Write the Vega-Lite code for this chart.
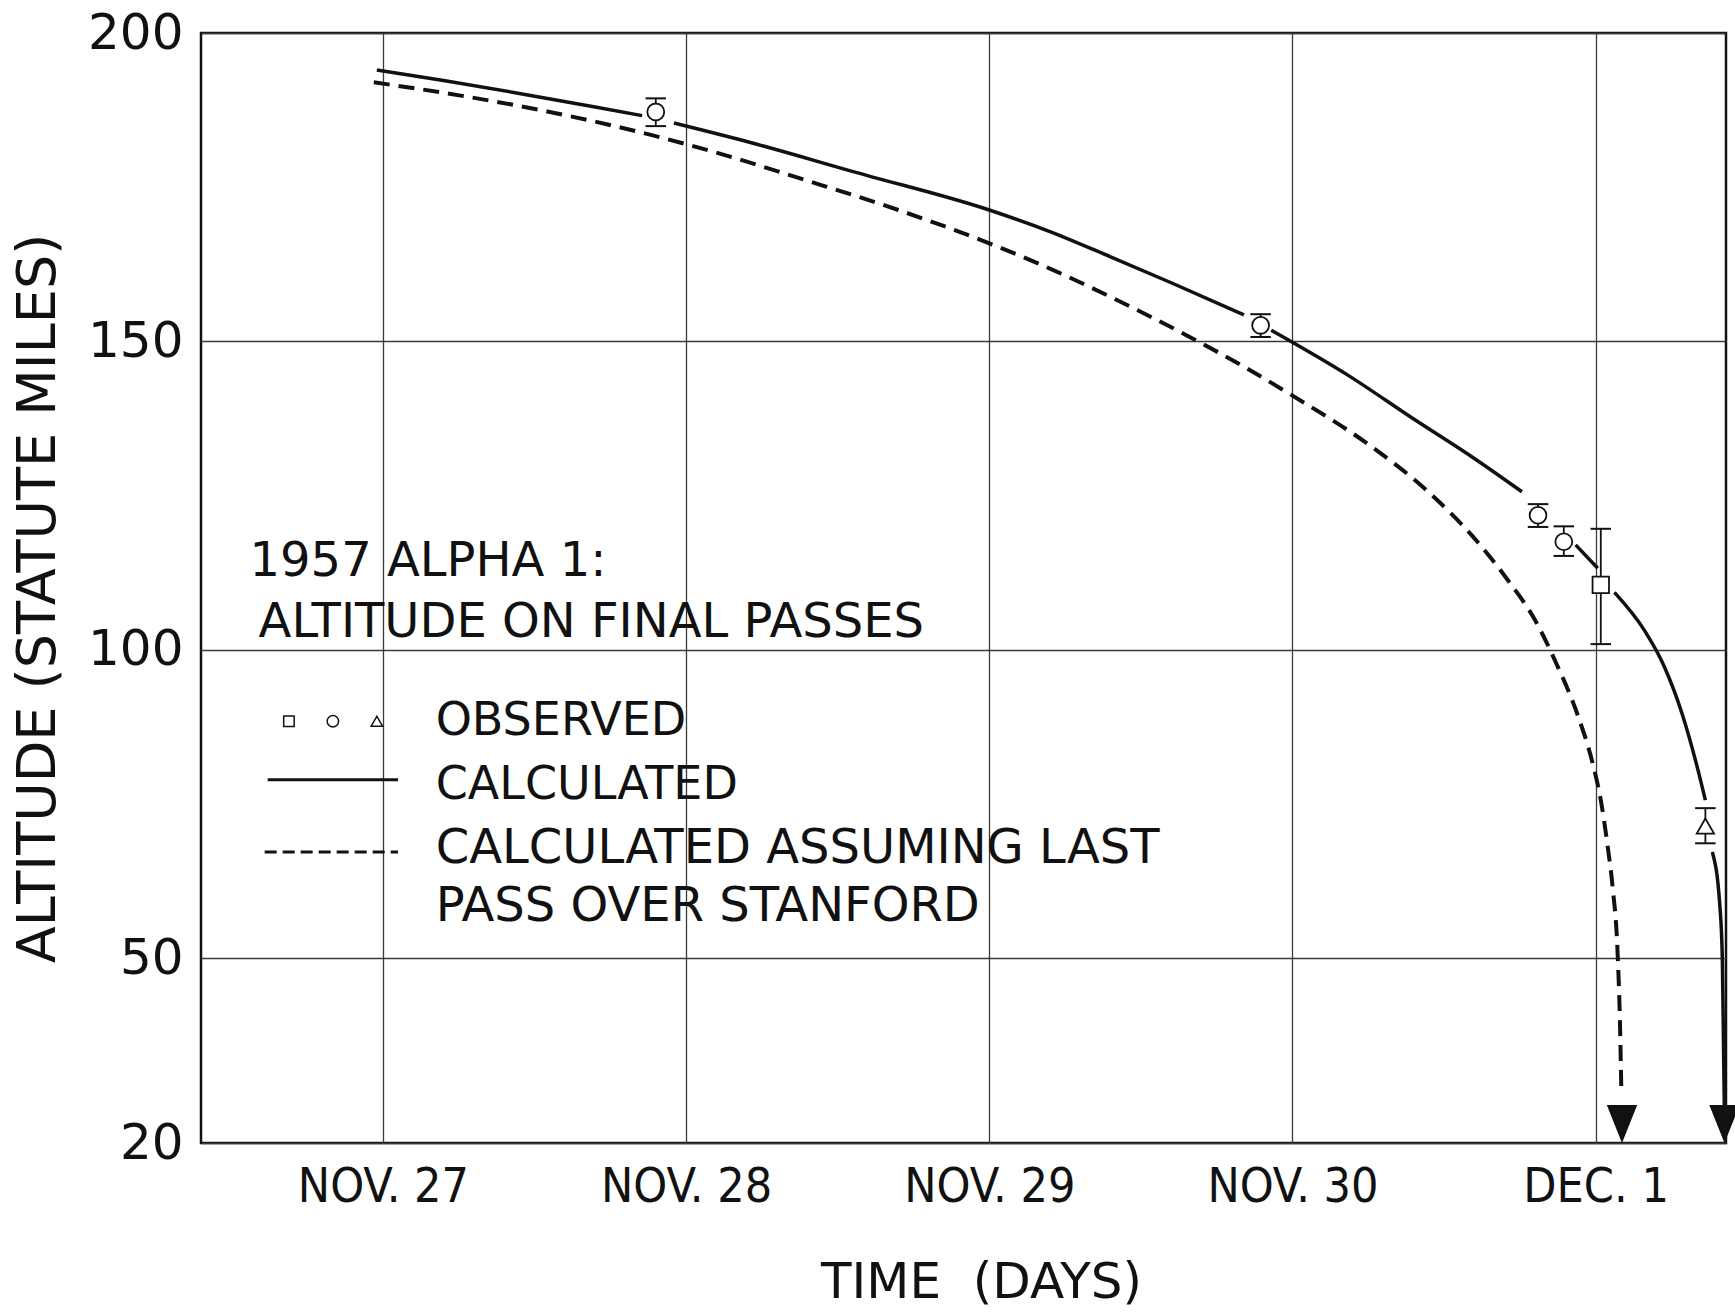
{
  "$schema": "https://vega.github.io/schema/vega-lite/v6.json",
  "width": 1525,
  "height": 1110,
  "autosize": {"type": "none"},
  "padding": {"left": 201, "top": 33, "right": 9, "bottom": 170},
  "background": "white",
  "config": {
    "font": "DejaVu Sans",
    "view": {"stroke": "#111111", "strokeWidth": 2.5},
    "axis": {"labelColor": "#111111", "titleColor": "#111111", "labelFont": "DejaVu Sans", "titleFont": "DejaVu Sans", "titleFontWeight": "normal"}
  },
  "datasets": {
    "calc": [
      {"day": 26.98, "alt": 194.0, "seg": 1},
      {"day": 27.2, "alt": 192.3, "seg": 1},
      {"day": 27.45, "alt": 190.2, "seg": 1},
      {"day": 27.7, "alt": 188.0, "seg": 1},
      {"day": 27.855, "alt": 186.6, "seg": 1},
      {"day": 27.96, "alt": 185.4, "seg": 2},
      {"day": 28.2, "alt": 182.4, "seg": 2},
      {"day": 28.56, "alt": 177.4, "seg": 2},
      {"day": 29.0, "alt": 171.3, "seg": 2},
      {"day": 29.2, "alt": 167.8, "seg": 2},
      {"day": 29.4, "alt": 163.7, "seg": 2},
      {"day": 29.6, "alt": 159.5, "seg": 2},
      {"day": 29.84, "alt": 154.3, "seg": 2},
      {"day": 29.93, "alt": 151.8, "seg": 3},
      {"day": 30.18, "alt": 144.6, "seg": 3},
      {"day": 30.4, "alt": 137.4, "seg": 3},
      {"day": 30.6, "alt": 131.0, "seg": 3},
      {"day": 30.757, "alt": 125.6, "seg": 3},
      {"day": 30.934, "alt": 117.0, "seg": 4},
      {"day": 31.007, "alt": 113.2, "seg": 4},
      {"day": 31.062, "alt": 109.3, "seg": 5},
      {"day": 31.16, "alt": 103.2, "seg": 5},
      {"day": 31.227, "alt": 97.2, "seg": 5},
      {"day": 31.286, "alt": 89.5, "seg": 5},
      {"day": 31.336, "alt": 80.8, "seg": 5},
      {"day": 31.362, "alt": 75.6, "seg": 5},
      {"day": 31.385, "alt": 67.2, "seg": 6},
      {"day": 31.41, "alt": 58.3, "seg": 6},
      {"day": 31.418, "alt": 49.7, "seg": 6},
      {"day": 31.422, "alt": 35.0, "seg": 6},
      {"day": 31.425, "alt": 24.0, "seg": 6}
    ],
    "stanford": [
      {"day": 26.97, "alt": 192.0},
      {"day": 27.2, "alt": 190.3},
      {"day": 27.55, "alt": 187.2},
      {"day": 27.89, "alt": 183.4},
      {"day": 28.1, "alt": 180.6},
      {"day": 28.39, "alt": 176.2},
      {"day": 28.7, "alt": 171.3},
      {"day": 29.0, "alt": 165.9},
      {"day": 29.2, "alt": 161.8},
      {"day": 29.4, "alt": 157.2},
      {"day": 29.65, "alt": 151.0},
      {"day": 29.85, "alt": 145.6},
      {"day": 30.0, "alt": 141.2},
      {"day": 30.25, "alt": 133.3},
      {"day": 30.45, "alt": 125.5},
      {"day": 30.61, "alt": 117.5},
      {"day": 30.71, "alt": 111.3},
      {"day": 30.8, "alt": 104.8},
      {"day": 30.87, "alt": 97.8},
      {"day": 30.94, "alt": 89.5},
      {"day": 30.99, "alt": 81.6},
      {"day": 31.017, "alt": 75.6},
      {"day": 31.04, "alt": 68.0},
      {"day": 31.056, "alt": 61.5},
      {"day": 31.072, "alt": 51.3},
      {"day": 31.08, "alt": 40.0},
      {"day": 31.085, "alt": 28.0}
    ],
    "observed": [
      {"day": 27.9, "alt": 187.2, "lo": 184.9, "hi": 189.4, "kind": "circle"},
      {"day": 29.895, "alt": 152.6, "lo": 150.7, "hi": 154.4, "kind": "circle"},
      {"day": 30.81, "alt": 121.8, "lo": 119.9, "hi": 123.6, "kind": "circle"},
      {"day": 30.895, "alt": 117.5, "lo": 115.2, "hi": 120.0, "kind": "circle"},
      {"day": 31.017, "alt": 110.5, "lo": 100.9, "hi": 119.6, "kind": "square"},
      {"day": 31.362, "alt": 71.4, "lo": 68.6, "hi": 74.3, "kind": "triangle"}
    ],
    "ends": [
      {"day": 31.087, "alt": 20, "series": "stanford"},
      {"day": 31.425, "alt": 20, "series": "calc"}
    ],
    "blank": [{"k": 1}]
  },
  "layer": [
    {
      "data": {"name": "calc"},
      "mark": {"type": "line", "color": "#111111", "strokeWidth": 3.5, "strokeCap": "butt", "interpolate": "monotone"},
      "encoding": {
        "x": {
          "field": "day", "type": "quantitative",
          "scale": {"domain": [26.4, 31.43], "nice": false, "zero": false},
          "axis": {
            "values": [27, 28, 29, 30, 31],
            "labelExpr": "datum.value == 31 ? 'DEC. 1' : 'NOV. ' + datum.value",
            "labelFont": "DejaVu Sans Condensed", "labelFontSize": 48, "labelPadding": 20,
            "ticks": false, "domain": false, "grid": true, "gridColor": "#3a3a3a", "gridWidth": 1.3,
            "labelOverlap": false, "labelFlush": false,
            "title": "TIME\u00a0\u00a0(DAYS)", "titleFontSize": 50, "titlePadding": 46, "titleX": 780
          }
        },
        "y": {
          "field": "alt", "type": "quantitative",
          "scale": {"domain": [20, 200], "nice": false, "zero": false},
          "axis": {
            "values": [20, 50, 100, 150, 200],
            "labelFontSize": 50, "labelPadding": 18,
            "ticks": false, "domain": false, "grid": true, "gridColor": "#3a3a3a", "gridWidth": 1.3,
            "labelOverlap": false, "labelFlush": false,
            "title": "ALTITUDE (STATUTE MILES)", "titleFontSize": 54, "titlePadding": 22, "titleY": 565
          }
        },
        "detail": {"field": "seg", "type": "nominal"}
      }
    },
    {
      "data": {"name": "stanford"},
      "mark": {"type": "line", "color": "#111111", "strokeWidth": 4, "strokeDash": [16, 9], "interpolate": "monotone"},
      "encoding": {
        "x": {"field": "day", "type": "quantitative"},
        "y": {"field": "alt", "type": "quantitative"}
      }
    },
    {
      "data": {"name": "observed"},
      "mark": {"type": "rule", "color": "#111111", "strokeWidth": 1.8},
      "encoding": {
        "x": {"field": "day", "type": "quantitative"},
        "y": {"field": "lo", "type": "quantitative"},
        "y2": {"field": "hi"}
      }
    },
    {
      "data": {"name": "observed"},
      "transform": [{"fold": ["lo", "hi"], "as": ["end", "val"]}],
      "mark": {"type": "point", "shape": "M-1,0L1,0", "size": 420, "filled": false, "stroke": "#111111", "strokeWidth": 2, "opacity": 1},
      "encoding": {
        "x": {"field": "day", "type": "quantitative"},
        "y": {"field": "val", "type": "quantitative"}
      }
    },
    {
      "data": {"name": "observed"},
      "mark": {"type": "point", "filled": true, "fill": "white", "stroke": "#111111", "strokeWidth": 1.8, "opacity": 1},
      "encoding": {
        "x": {"field": "day", "type": "quantitative"},
        "y": {"field": "alt", "type": "quantitative"},
        "shape": {"field": "kind", "type": "nominal", "scale": {"domain": ["square", "circle", "triangle"], "range": ["square", "circle", "triangle-up"]}, "legend": null},
        "size": {"field": "kind", "type": "nominal", "scale": {"domain": ["square", "circle", "triangle"], "range": [270, 300, 330]}, "legend": null}
      }
    },
    {
      "data": {"name": "ends"},
      "mark": {"type": "point", "shape": "M-0.8,-2L0.8,-2L0,0Z", "size": 1444, "filled": true, "fill": "#111111", "strokeWidth": 0, "opacity": 1},
      "encoding": {
        "x": {"field": "day", "type": "quantitative"},
        "y": {"field": "alt", "type": "quantitative"}
      }
    },
    {
      "data": {"name": "blank"},
      "mark": {"type": "point", "shape": "square", "size": 110, "filled": false, "stroke": "#111111", "strokeWidth": 1.5, "opacity": 1},
      "encoding": {"x": {"datum": 26.69}, "y": {"datum": 88.4}}
    },
    {
      "data": {"name": "blank"},
      "mark": {"type": "point", "shape": "circle", "size": 130, "filled": false, "stroke": "#111111", "strokeWidth": 1.5, "opacity": 1},
      "encoding": {"x": {"datum": 26.835}, "y": {"datum": 88.4}}
    },
    {
      "data": {"name": "blank"},
      "mark": {"type": "point", "shape": "triangle-up", "size": 130, "filled": false, "stroke": "#111111", "strokeWidth": 1.5, "opacity": 1},
      "encoding": {"x": {"datum": 26.98}, "y": {"datum": 88.4}}
    },
    {
      "data": {"name": "blank"},
      "mark": {"type": "rule", "color": "#111111", "strokeWidth": 3},
      "encoding": {"x": {"datum": 26.62}, "x2": {"datum": 27.05}, "y": {"datum": 78.9}}
    },
    {
      "data": {"name": "blank"},
      "mark": {"type": "rule", "color": "#111111", "strokeWidth": 3, "strokeDash": [12, 6]},
      "encoding": {"x": {"datum": 26.61}, "x2": {"datum": 27.05}, "y": {"datum": 67.2}}
    },
    {
      "data": {"name": "blank"},
      "mark": {"type": "text", "align": "left", "baseline": "middle", "fontSize": 48, "color": "#111111"},
      "encoding": {"x": {"datum": 26.56}, "y": {"datum": 114.2}, "text": {"value": "1957 ALPHA 1:"}}
    },
    {
      "data": {"name": "blank"},
      "mark": {"type": "text", "align": "left", "baseline": "middle", "fontSize": 48, "color": "#111111"},
      "encoding": {"x": {"datum": 26.59}, "y": {"datum": 104.3}, "text": {"value": "ALTITUDE ON FINAL PASSES"}}
    },
    {
      "data": {"name": "blank"},
      "mark": {"type": "text", "align": "left", "baseline": "middle", "fontSize": 46, "color": "#111111"},
      "encoding": {"x": {"datum": 27.174}, "y": {"datum": 88.4}, "text": {"value": "OBSERVED"}}
    },
    {
      "data": {"name": "blank"},
      "mark": {"type": "text", "align": "left", "baseline": "middle", "fontSize": 46, "color": "#111111"},
      "encoding": {"x": {"datum": 27.174}, "y": {"datum": 78.1}, "text": {"value": "CALCULATED"}}
    },
    {
      "data": {"name": "blank"},
      "mark": {"type": "text", "align": "left", "baseline": "middle", "fontSize": 48, "color": "#111111"},
      "encoding": {"x": {"datum": 27.174}, "y": {"datum": 67.7}, "text": {"value": "CALCULATED ASSUMING LAST"}}
    },
    {
      "data": {"name": "blank"},
      "mark": {"type": "text", "align": "left", "baseline": "middle", "fontSize": 48, "color": "#111111"},
      "encoding": {"x": {"datum": 27.174}, "y": {"datum": 58.3}, "text": {"value": "PASS OVER STANFORD"}}
    }
  ]
}
